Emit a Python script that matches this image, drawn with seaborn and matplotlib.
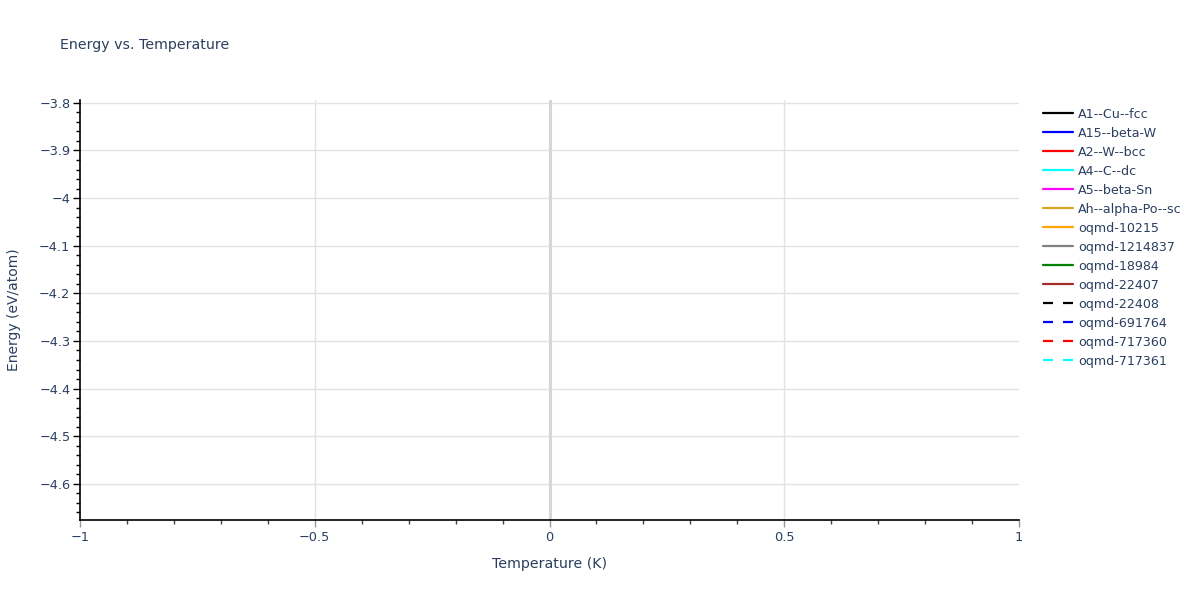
import matplotlib
matplotlib.use("Agg")
import matplotlib.pyplot as plt
from matplotlib.ticker import MultipleLocator, FuncFormatter
import seaborn as sns
import pandas as pd

# ---- data ----
structures = ["A1--Cu--fcc", "A15--beta-W", "A2--W--bcc", "A4--C--dc", "A5--beta-Sn",
              "Ah--alpha-Po--sc", "oqmd-10215", "oqmd-1214837", "oqmd-18984", "oqmd-22407",
              "oqmd-22408", "oqmd-691764", "oqmd-717360", "oqmd-717361"]
temperature = [0.0]  # each series holds a single point at T = 0 K
energies = [-4.58, -4.62, -4.676, -3.794, -4.12, -4.35, -4.60, -4.05, -4.55, -4.48,
            -4.40, -4.20, -3.95, -4.30]
colors = ["black", "blue", "red", "cyan", "magenta", "goldenrod", "orange", "gray",
          "green", "brown", "black", "blue", "red", "cyan"]
dashes = ["-"] * 10 + ["--"] * 4
x_ticks = [-1, -0.5, 0, 0.5, 1]
y_limits = (-4.676, -3.794)

sns.set_theme(style="white")
plt.rcParams["font.family"] = ["DejaVu Sans"]
text_color = "#2a3f5f"

fig = plt.figure(figsize=(12, 6), dpi=100)
ax = fig.add_axes([80 / 1200, 1 - 520 / 600, (1019 - 80) / 1200, 420 / 600])

for name, e, c, d in zip(structures, energies, colors, dashes):
    df = pd.DataFrame({"T": temperature, "E": [e]})
    sns.lineplot(data=df, x="T", y="E", ax=ax, color=c, linewidth=1.6,
                 label=name, legend=False)
    if d == "--":
        ax.lines[-1].set_dashes((4.5, 4.5))

ax.set_xlim(-1, 1)
ax.set_ylim(*y_limits)
ax.set_xticks(x_ticks)
ax.xaxis.set_minor_locator(MultipleLocator(0.1))
ax.yaxis.set_major_locator(MultipleLocator(0.1))
ax.yaxis.set_minor_locator(MultipleLocator(0.02))

def fmt(v, pos):
    s = f"{v:.2f}".rstrip("0").rstrip(".")
    if s in ("-0", "0"):
        return "0"
    return s.replace("-", "\u2212")

ax.xaxis.set_major_formatter(FuncFormatter(fmt))
ax.yaxis.set_major_formatter(FuncFormatter(fmt))

ax.grid(True, which="major", color="#e2e2e2", linewidth=1)
gl = ax.get_xgridlines()
gl[0].set_visible(False)
gl[-1].set_visible(False)
ax.axvline(0, color="#d6d6d6", linewidth=2.2, zorder=1)

for side in ["top", "right"]:
    ax.spines[side].set_visible(False)
for side in ["left", "bottom"]:
    ax.spines[side].set_color("black")
    ax.spines[side].set_linewidth(1.2)

ax.tick_params(axis="y", which="major", direction="out", length=5, width=1, color="black",
               labelsize=9.3, labelcolor=text_color, left=True, pad=2)
ax.tick_params(axis="y", which="minor", direction="out", length=3, width=1, color="black", left=True)
ax.tick_params(axis="x", which="major", direction="out", length=5, width=1, color="#999999",
               labelsize=9.3, labelcolor=text_color, bottom=True, pad=3)
ax.tick_params(axis="x", which="minor", direction="out", length=3, width=1, color="#444444", bottom=True)

ax.set_xlabel("Temperature (K)", fontsize=10.2, color=text_color, labelpad=9)
ax.set_ylabel("Energy (eV/atom)", fontsize=10.0, color=text_color, labelpad=13)

fig.text(60 / 1200, 1 - 45.5 / 600, "Energy vs. Temperature", fontsize=10.2, color=text_color,
         va="center", ha="left")

handles, labels = ax.get_legend_handles_labels()
leg = fig.legend(handles, labels, loc="upper left", bbox_to_anchor=(1043 / 1200, 1 - 107.5 / 600),
                 frameon=False, fontsize=9.1, labelcolor=text_color, handlelength=2.35,
                 handletextpad=0.45, labelspacing=0.475, borderaxespad=0, borderpad=0)

fig.savefig("out.png", dpi=100, facecolor="white")
